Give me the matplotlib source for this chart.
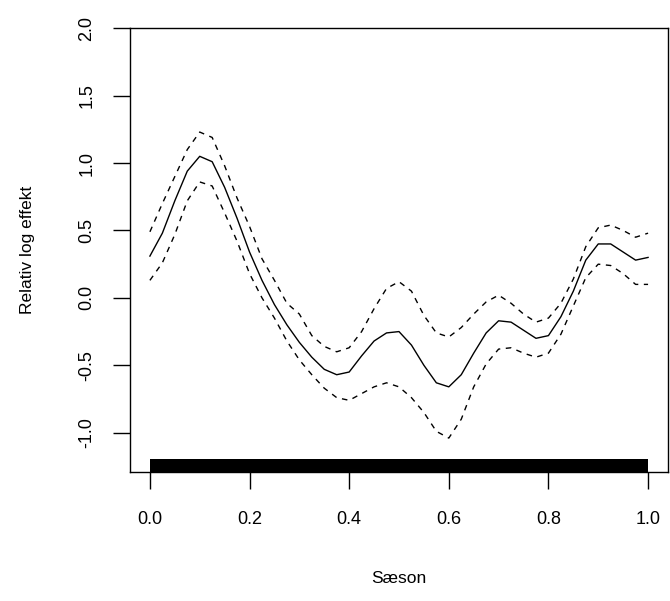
import numpy as np
import matplotlib
matplotlib.use('agg')
from matplotlib import pyplot as plt

plt.rcParams['font.family'] = ['Liberation Sans', 'DejaVu Sans']

# season (fraction of year)
saeson = [0.000, 0.025, 0.050, 0.075, 0.100, 0.125, 0.150, 0.175, 0.200, 0.225,
          0.250, 0.275, 0.300, 0.325, 0.350, 0.375, 0.400, 0.425, 0.450, 0.475,
          0.500, 0.525, 0.550, 0.575, 0.600, 0.625, 0.650, 0.675, 0.700, 0.725,
          0.750, 0.775, 0.800, 0.825, 0.850, 0.875, 0.900, 0.925, 0.950, 0.975,
          1.000]
# fitted smooth
fit = [0.31, 0.48, 0.72, 0.94, 1.05, 1.01, 0.82, 0.59, 0.34, 0.13,
       -0.05, -0.20, -0.33, -0.44, -0.53, -0.57, -0.55, -0.43, -0.32, -0.26,
       -0.25, -0.35, -0.50, -0.63, -0.66, -0.57, -0.41, -0.26, -0.17, -0.18,
       -0.24, -0.30, -0.28, -0.14, 0.05, 0.28, 0.40, 0.40, 0.34, 0.28,
       0.30]
# upper and lower confidence band
upper = [0.49, 0.70, 0.90, 1.10, 1.23, 1.19, 0.98, 0.74, 0.53, 0.29,
         0.13, -0.04, -0.12, -0.28, -0.36, -0.40, -0.37, -0.25, -0.08, 0.07,
         0.12, 0.05, -0.13, -0.26, -0.29, -0.22, -0.12, -0.03, 0.02, -0.04,
         -0.12, -0.18, -0.15, -0.04, 0.14, 0.38, 0.52, 0.54, 0.50, 0.45,
         0.48]
lower = [0.13, 0.26, 0.47, 0.72, 0.86, 0.83, 0.63, 0.42, 0.18, 0.00,
         -0.15, -0.32, -0.46, -0.57, -0.67, -0.74, -0.76, -0.71, -0.66, -0.63,
         -0.66, -0.74, -0.85, -0.99, -1.04, -0.90, -0.66, -0.49, -0.38, -0.37,
         -0.41, -0.44, -0.41, -0.27, -0.06, 0.15, 0.25, 0.24, 0.18, 0.10,
         0.10]
# rug covers the whole season
rug_start = 0.0
rug_end = 1.0

fig = plt.figure(figsize=(6.7, 6.01), dpi=100)
ax = fig.add_axes([0.194, 0.215, 0.803, 0.738])

ax.plot(saeson, fit, color='black', lw=1.0)
ax.plot(saeson, upper, color='black', lw=1.0, linestyle=(0, (4, 4)))
ax.plot(saeson, lower, color='black', lw=1.0, linestyle=(0, (4, 4)))
ax.axvspan(rug_start, rug_end, ymin=0, ymax=0.028, color='black', lw=0)

ax.set_xlim(-0.04, 1.04)
ax.set_ylim(-1.29, 2.0)
ax.set_xticks([0.0, 0.2, 0.4, 0.6, 0.8, 1.0])
ax.set_xticklabels(['0.0', '0.2', '0.4', '0.6', '0.8', '1.0'])
ax.set_yticks([-1.0, -0.5, 0.0, 0.5, 1.0, 1.5, 2.0])
ax.set_yticklabels(['-1.0', '-0.5', '0.0', '0.5', '1.0', '1.5', '2.0'],
                   rotation=90, va='center')
ax.tick_params(length=12, width=1, labelsize=13)
ax.tick_params(axis='x', pad=16)
ax.tick_params(axis='y', pad=13)
for s in ax.spines.values():
    s.set_linewidth(1)

ax.set_xlabel('Sæson', fontsize=12.5, labelpad=31)
ax.set_ylabel('Relativ log effekt', fontsize=12.5, labelpad=31)

fig.savefig('out.png', dpi=100)
